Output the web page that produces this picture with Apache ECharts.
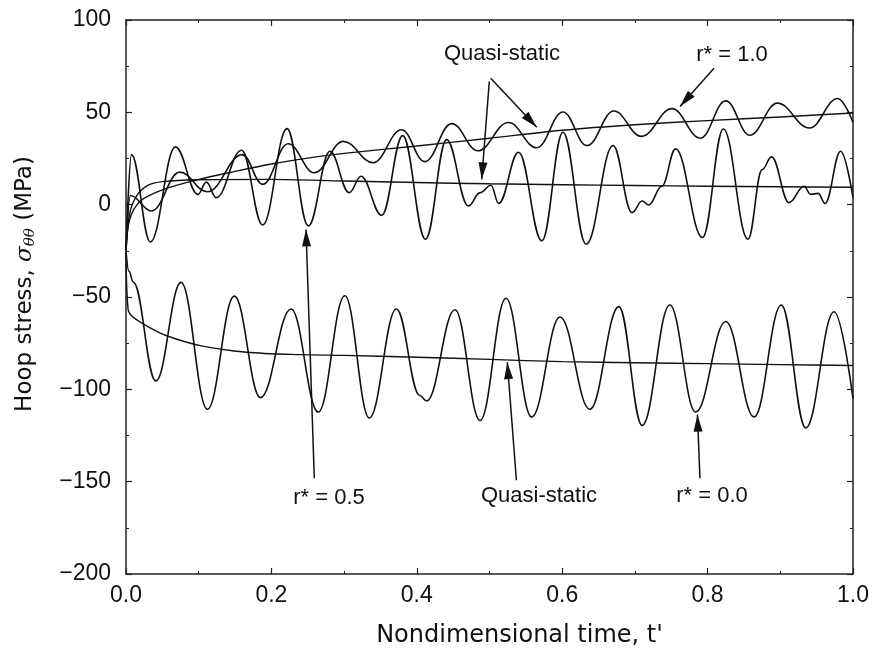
<!DOCTYPE html>
<html>
<head>
<meta charset="utf-8">
<script src="https://cdn.jsdelivr.net/npm/echarts@6/dist/echarts.min.js"></script>
<style>
  html, body { margin: 0; padding: 0; background: #fff; }
  #chart { width: 874px; height: 653px; }
</style>
</head>
<body>
<div id="chart"></div>
<script>
// r* = 1.0, dynamic response (peaks / troughs)
var t10 = [0, 0.006, 0.035, 0.074, 0.112, 0.160, 0.188, 0.223, 0.259, 0.299, 0.340, 0.379, 0.411, 0.448, 0.484, 0.526, 0.565, 0.601, 0.634, 0.671, 0.709, 0.751, 0.790, 0.825, 0.858, 0.896, 0.940, 0.979, 1.0];
var y10 = [-25, 5, -3.4, 17.6, 7, 27.1, 11, 33, 17.3, 34.3, 22.7, 40.6, 23.3, 43.9, 29.2, 44.5, 30.8, 50.2, 32, 50.7, 37, 52, 36, 56.2, 37.6, 55, 41.5, 57.5, 44.5];

// r* = 0.5, dynamic
var t05 = [0, 0.0075, 0.0335, 0.068, 0.099, 0.1105, 0.124, 0.159, 0.188, 0.2215, 0.2508, 0.2806, 0.307, 0.3233, 0.3517, 0.3806, 0.412, 0.441, 0.471, 0.487, 0.502, 0.5126, 0.540, 0.572, 0.601, 0.633, 0.670, 0.696, 0.71, 0.719, 0.737, 0.756, 0.793, 0.8217, 0.8556, 0.875, 0.888, 0.912, 0.9326, 0.9418, 0.952, 0.9615, 0.983, 1.0];
var y05 = [-25, 27.1, -20.2, 31.3, 5.6, 12.2, 3.8, 29.5, -11, 41.2, -11.5, 28.9, 6.5, 15.4, -5.8, 37.4, -18.7, 35.2, -0.7, 6.5, 10.5, 0.7, 28.4, -19.6, 39.2, -21.4, 32, -4.3, 2, -0.2, 10, 30.2, -17.8, 41, -18.7, 19, 25.9, 1.1, 10, 5.6, 6.1, 0.7, 28.9, 3.8];

// r* = 0.0, dynamic
var t00 = [0, 0.004, 0.010, 0.041, 0.0757, 0.112, 0.149, 0.185, 0.227, 0.2645, 0.301, 0.3347, 0.372, 0.404, 0.4136, 0.4525, 0.487, 0.5227, 0.558, 0.597, 0.638, 0.678, 0.710, 0.748, 0.7836, 0.825, 0.864, 0.9014, 0.935, 0.974, 1.0];
var y00 = [-25, -36, -42, -95.5, -42.1, -110.8, -49.5, -104.5, -56.5, -112.3, -49.3, -115.5, -56.5, -103.3, -106.3, -56.9, -116.8, -50.7, -115, -60.8, -110.8, -55.2, -119.5, -54.3, -112.3, -63.3, -115, -54.3, -120.9, -58, -105];

// quasi-static solutions
var tQs10 = [0, 0.005, 0.02, 0.05, 0.1, 0.15, 0.2, 0.25, 0.3, 0.4, 0.5, 0.6, 0.7, 0.8, 0.9, 1.0];
var yQs10 = [-25, -8, 2, 8, 13.7, 18, 22, 25.2, 27.8, 31.8, 36, 40.3, 43.3, 45.5, 47.5, 49.6];
var tQs05 = [0, 0.005, 0.015, 0.03, 0.05, 0.1, 0.2, 0.3, 0.4, 0.5, 0.6, 0.7, 0.8, 0.9, 1.0];
var yQs05 = [-25, -5, 5, 10.5, 12.5, 13.5, 13.7, 12.8, 12, 11.3, 10.8, 10.4, 10, 9.7, 9.4];
var tQs00 = [0, 0.003, 0.01, 0.03, 0.056, 0.102, 0.166, 0.239, 0.3, 0.4, 0.5, 0.6, 0.7, 0.8, 0.9, 1.0];
var yQs00 = [-25, -57, -61, -66, -71, -76.3, -79.9, -81.2, -81.6, -82.6, -83.8, -85, -85.6, -86.1, -86.6, -87.1];

// annotation arrows: [from, to] in data units
var arrows = [
  [[0.4997, 66.7], [0.4893, 13.7]],
  [[0.5017, 68.5], [0.565, 41.9]],
  [[0.8088, 73.9], [0.762, 53.2]],
  [[0.259, -148.2], [0.2476, -13.4]],
  [[0.537, -149.2], [0.5245, -85.3]],
  [[0.7895, -148.2], [0.786, -113.7]]
];

function pairs(ts, ys) {
  return ts.map(function (t, i) { return [t, ys[i]]; });
}

var chart = echarts.init(document.getElementById('chart'));

var lineBlack = { color: '#111', width: 1.6 };
var font = 'Liberation Sans, Arial, sans-serif';

function dyn(name, ts, ys) {
  return {
    name: name, type: 'line', data: pairs(ts, ys),
    showSymbol: false, smooth: 0.4, smoothMonotone: 'x',
    lineStyle: lineBlack, silent: true, animation: false
  };
}
function qs(name, ts, ys) {
  return {
    name: name, type: 'line', data: pairs(ts, ys),
    showSymbol: false, smooth: 0.3,
    lineStyle: { color: '#111', width: 1.4 }, silent: true, animation: false
  };
}

var arrowSeries = qs('qs00', tQs00, yQs00);
arrowSeries.markLine = {
  silent: true,
  animation: false,
  label: { show: false },
  lineStyle: { color: '#111', width: 1.5, type: 'solid' },
  data: arrows.map(function (a) {
    return [
      { coord: a[0], symbol: 'none' },
      { coord: a[1], symbol: 'path://M5,0L10,18L0,18Z', symbolSize: [9, 17], symbolOffset: [0, '50%'] }
    ];
  })
};

var axisCommon = {
  type: 'value',
  axisLine: { show: true, onZero: false, lineStyle: { color: '#222', width: 1.5 } },
  axisTick: { show: true, inside: true, length: 6, lineStyle: { color: '#222', width: 1.2 } },
  minorTick: { show: true, splitNumber: 2, length: 3, lineStyle: { color: '#222', width: 1 } },
  splitLine: { show: false }
};

var option = {
  backgroundColor: '#fff',
  animation: false,
  grid: { left: 126, right: 21, top: 20, bottom: 77 },
  xAxis: [
    Object.assign({}, axisCommon, {
      min: 0, max: 1, interval: 0.2, position: 'bottom',
      axisLabel: { color: '#111', fontSize: 23, fontFamily: font, margin: 10,
        formatter: function (v) { return v.toFixed(1); } },
      name: "Nondimensional time, t'",
      nameLocation: 'middle', nameGap: 50,
      nameTextStyle: { color: '#111', fontSize: 24, fontFamily: 'DejaVu Sans, sans-serif', padding: [0, 0, 0, 60] }
    }),
    Object.assign({}, axisCommon, {
      min: 0, max: 1, interval: 0.2, position: 'top',
      axisLabel: { show: false }
    })
  ],
  yAxis: [
    Object.assign({}, axisCommon, {
      min: -200, max: 100, interval: 50, position: 'left',
      axisLabel: { color: '#111', fontSize: 23, fontFamily: font, margin: 15,
        formatter: function (v) { return String(v).replace('-', '\u2212'); } },
      name: '{a|Hoop stress, }{s|σ}{b|θθ}{a| (MPa)}',
      nameLocation: 'middle', nameGap: 88, nameRotate: 90,
      nameTextStyle: {
        padding: [0, 0, 0, 26],
        rich: {
          a: { color: '#111', fontSize: 23, fontFamily: 'DejaVu Sans, sans-serif' },
          s: { color: '#111', fontSize: 23, fontStyle: 'italic', fontFamily: 'DejaVu Serif, serif' },
          b: { color: '#111', fontSize: 15, fontStyle: 'italic', fontFamily: 'DejaVu Serif, serif', padding: [10, 0, 0, 0] }
        }
      }
    }),
    Object.assign({}, axisCommon, {
      min: -200, max: 100, interval: 50, position: 'right',
      axisLabel: { show: false }
    })
  ],
  graphic: [
    { type: 'text', x: 502, y: 54, style: { text: 'Quasi-static', font: '22px ' + font, fill: '#111', align: 'center', verticalAlign: 'middle' } },
    { type: 'text', x: 732, y: 55, style: { text: 'r* = 1.0', font: '22px ' + font, fill: '#111', align: 'center', verticalAlign: 'middle' } },
    { type: 'text', x: 329, y: 498, style: { text: 'r* = 0.5', font: '22px ' + font, fill: '#111', align: 'center', verticalAlign: 'middle' } },
    { type: 'text', x: 539, y: 496, style: { text: 'Quasi-static', font: '22px ' + font, fill: '#111', align: 'center', verticalAlign: 'middle' } },
    { type: 'text', x: 712, y: 496, style: { text: 'r* = 0.0', font: '22px ' + font, fill: '#111', align: 'center', verticalAlign: 'middle' } }
  ],
  series: [
    dyn('r10', t10, y10),
    dyn('r05', t05, y05),
    dyn('r00', t00, y00),
    qs('qs10', tQs10, yQs10),
    qs('qs05', tQs05, yQs05),
    arrowSeries
  ]
};

chart.setOption(option);
</script>
</body>
</html>
